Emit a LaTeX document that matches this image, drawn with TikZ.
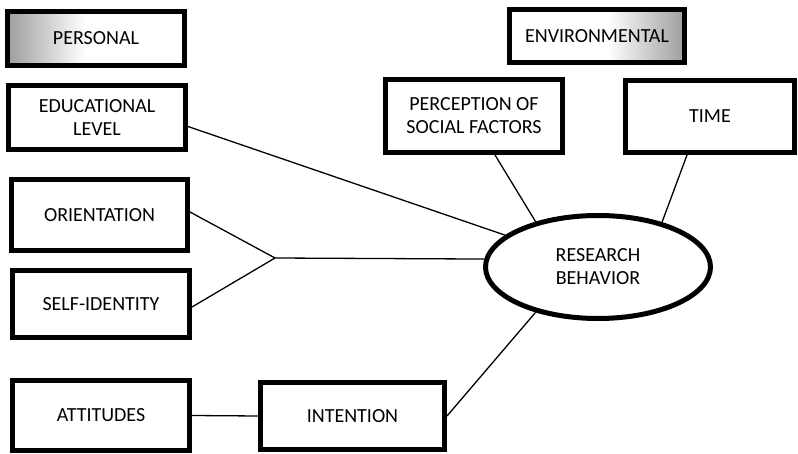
\documentclass[tikz,border=0pt]{standalone}
\usepackage{fontspec}
\setmainfont{Carlito}
\usetikzlibrary{shapes.geometric}
% grey-to-white fades used as header fills
\pgfdeclarehorizontalshading{fadeleft}{100bp}{color(0bp)=(black!38); color(25bp)=(black!38); color(47bp)=(white); color(100bp)=(white)}
\pgfdeclarehorizontalshading{faderight}{100bp}{color(0bp)=(white); color(53bp)=(white); color(75bp)=(black!38); color(100bp)=(black!38)}
\begin{document}
\begin{tikzpicture}[x=1pt,y=-1pt,
  box/.style={draw=black,line width=5pt,fill=white,rectangle,inner sep=2pt,
    align=center,font=\fontsize{20}{23}\selectfont},
  link/.style={draw=black,line width=1.3pt},
  shadeleft/.style={shading=fadeleft},
  shaderight/.style={shading=faderight}]
\useasboundingbox (0,0) rectangle (798,454);

% personal factors (left column)
\node[box,shadeleft,minimum width=177pt,minimum height=54pt] (pers) at (96,38.5) {PERSONAL};
\node[box,minimum width=177pt,minimum height=64pt] (edu) at (97,117.5) {EDUCATIONAL\\LEVEL};
\node[box,minimum width=176pt,minimum height=71pt] (ori) at (99.5,215) {ORIENTATION};
\node[box,minimum width=177pt,minimum height=67pt] (self) at (101,304) {SELF-IDENTITY};
\node[box,minimum width=177pt,minimum height=70pt] (att) at (101,415.5) {ATTITUDES};
\node[box,minimum width=184pt,minimum height=67pt] (int) at (352.5,416) {INTENTION};

% environmental factors (top right)
\node[box,shaderight,minimum width=175pt,minimum height=53pt] (env) at (597,36) {ENVIRONMENTAL};
\node[box,minimum width=177pt,minimum height=73pt] (perc) at (474,116) {PERCEPTION OF\\SOCIAL FACTORS};
\node[box,minimum width=169pt,minimum height=72pt] (time) at (710,116.5) {TIME};

% outcome
\node[box,ellipse,inner sep=0pt,minimum width=225pt,minimum height=103pt] (rb) at (598,267) {RESEARCH\\BEHAVIOR};

% connectors
\coordinate (j) at (275,258);
\draw[link] ([yshift=-9pt]edu.east) -- (rb);
\draw[link] ([yshift=3pt]ori.east) -- (j);
\draw[link] ([yshift=-3pt]self.east) -- (j);
\draw[link] (j) -- (rb.176);
\draw[link] ([xshift=21pt]perc.south) -- (rb.144);
\draw[link] ([xshift=-23pt]time.south) -- (rb.35);
\draw[link] (att.east) -- (int.west);
\draw[link] (int.east) -- (rb.216);
\end{tikzpicture}
\end{document}
